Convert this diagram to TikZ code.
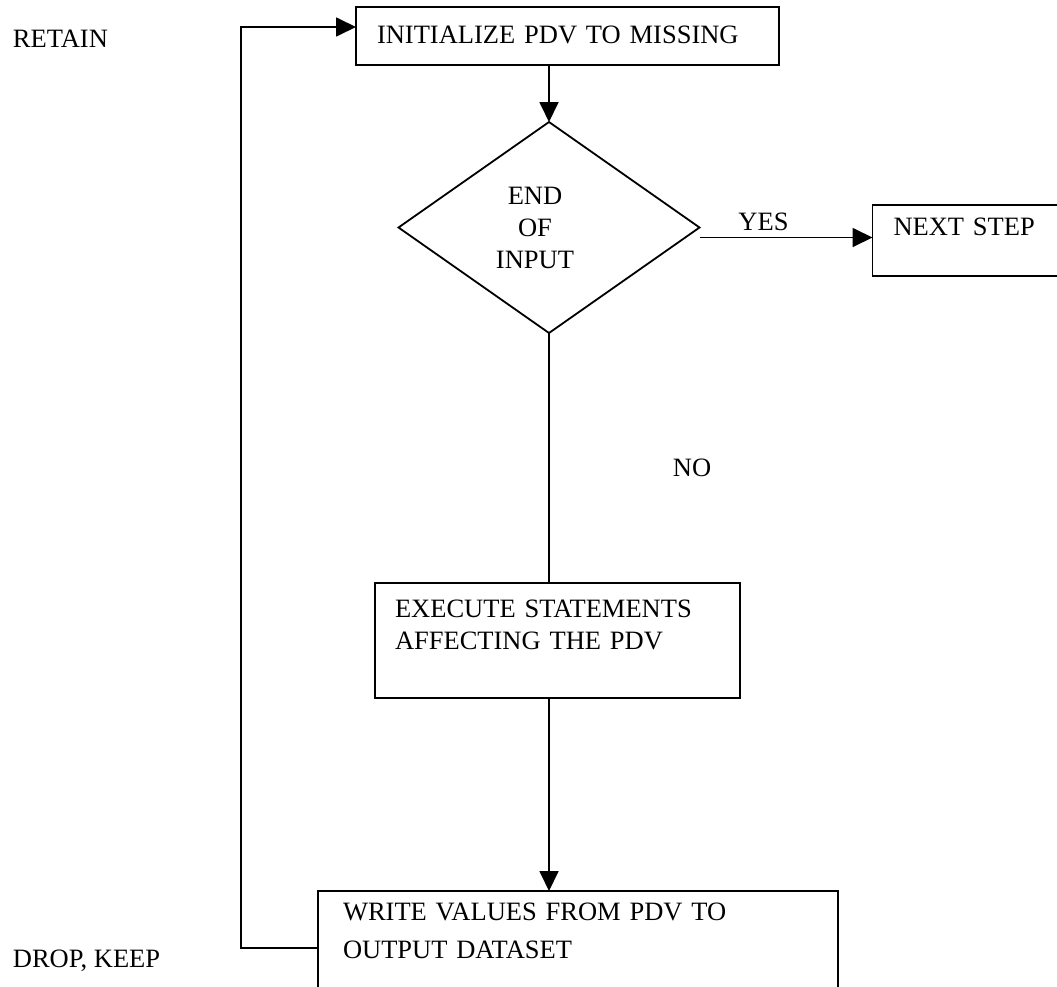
\documentclass[tikz,border=0pt]{standalone}
\usepackage{fontspec}
\setmainfont{Liberation Serif}
\usetikzlibrary{positioning}
\usetikzlibrary{shapes.geometric}
\usetikzlibrary{arrows.meta}

\begin{document}
\begin{tikzpicture}[x=1pt,y=1pt,line width=1.8pt,node distance=2.0cm,
		font=\fontsize{26.5}{32}\selectfont,
		box/.style={draw,rectangle,inner ysep=0pt,outer sep=0pt,align=left},
		decision/.style={draw,diamond,inner sep=0pt,outer sep=0pt,minimum width=301pt,minimum height=211pt},
		note/.style={inner sep=0pt},
		arr/.style={-{Triangle[length=20pt,width=19pt]}}]
		\useasboundingbox (0,0) rectangle (1057,-986);
		\node [box,inner xsep=21pt,text width=381pt,text height=36pt,text depth=22pt] (init) at (567.5,-36) {INITIALIZE PDV TO MISSING};
		\node [decision,below=57pt of init,xshift=-18.5pt,
			label={[name=inputtext,note,align=center,xshift=-14pt]center:END\\OF\\INPUT}] (input) {};
		\node [box,inner xsep=21pt,text width=154pt,text height=30pt,text depth=41pt,right=173pt of input,yshift=-13pt] (next) {NEXT STEP};
		\node [box,inner xsep=20pt,text width=325pt,text height=34pt,text depth=81pt,below=250pt of input,xshift=8.5pt] (exec) {EXECUTE STATEMENTS\\AFFECTING THE PDV};
		\node [box,inner xsep=25pt,text width=470pt,text height=29pt,text depth=85pt,below=193pt of exec,xshift=20.5pt] (write) {WRITE VALUES FROM PDV TO\\[6pt]OUTPUT DATASET};
		\node [note,anchor=base west] (retain) at (12,-47) {RETAIN};
		\node [note,anchor=base west] (dropkeep) at (12,-967) {DROP, KEEP};
		\coordinate (corner) at (241,-948);
		\draw [arr] (init.south -| input.north) -- (input.north);
		\draw [arr] ([yshift=-10pt]input.east) -- ([yshift=-10pt]input.east -| next.west)
			node [note,pos=.37,above=6pt] (yes) {YES};
		\draw (input.south) -- (input.south |- exec.north)
			node [note,pos=.54,right=123pt] (no) {NO};
		\draw [arr] (exec.south -| input.south) -- (write.north -| input.south);
		\draw [arr] (write.west) -- (corner) |- ([yshift=9pt]init.west);
	\end{tikzpicture}
\end{document}
